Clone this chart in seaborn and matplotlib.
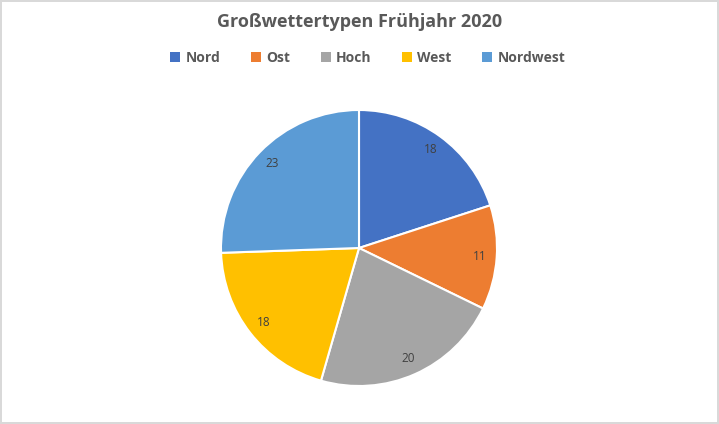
import matplotlib
matplotlib.use("Agg")
import matplotlib.pyplot as plt
import seaborn as sns
from matplotlib.patches import Patch

# Daten
kategorien = ["Nord", "Ost", "Hoch", "West", "Nordwest"]
tage = [18, 11, 20, 18, 23]
farben = ["#4472C4", "#ED7D31", "#A5A5A5", "#FFC000", "#5B9BD5"]
titel = "Großwettertypen Frühjahr 2020"

sns.set_theme(style="white")
plt.rcParams['font.family'] = ['Open Sans', 'DejaVu Sans']

W, H = 719, 424
fig = plt.figure(figsize=(W / 100, H / 100), dpi=100)
fig.patch.set_facecolor("white")
fig.patch.set_edgecolor("#D9D9D9")
fig.patch.set_linewidth(1.5)

# Kreis: Mittelpunkt (359, 248) px, Radius 138 px
cx, cy, r = 359, 248, 138
ax = fig.add_axes([(cx - r) / W, (H - cy - r) / H, 2 * r / W, 2 * r / H])

palette = sns.color_palette(farben)
wedges, texts, autotexts = ax.pie(
    tage,
    colors=palette,
    startangle=90,
    counterclock=False,
    autopct=lambda p: f"{p * sum(tage) / 100:.0f}",
    pctdistance=0.88,
    wedgeprops=dict(edgecolor="white", linewidth=1.5),
    textprops=dict(color="#404040", fontsize=8.5),
)
ax.set_xlim(-1, 1)
ax.set_ylim(-1, 1)
ax.set_aspect("equal")
ax.axis("off")

fig.text(0.5, 1 - 22 / H, titel, ha="center", va="center",
         fontsize=13, fontweight="bold", color="#595959")

handles = [Patch(facecolor=c, edgecolor="none") for c in farben]
leg = fig.legend(handles, kategorien, loc="center", ncol=5,
                 bbox_to_anchor=(368 / W, 1 - 58 / H), frameon=False,
                 handlelength=0.7, handleheight=0.7, handletextpad=0.4,
                 columnspacing=2.2, prop=dict(size=10, weight="bold"))
for t in leg.get_texts():
    t.set_color("#595959")

fig.savefig("out.png", dpi=100)
